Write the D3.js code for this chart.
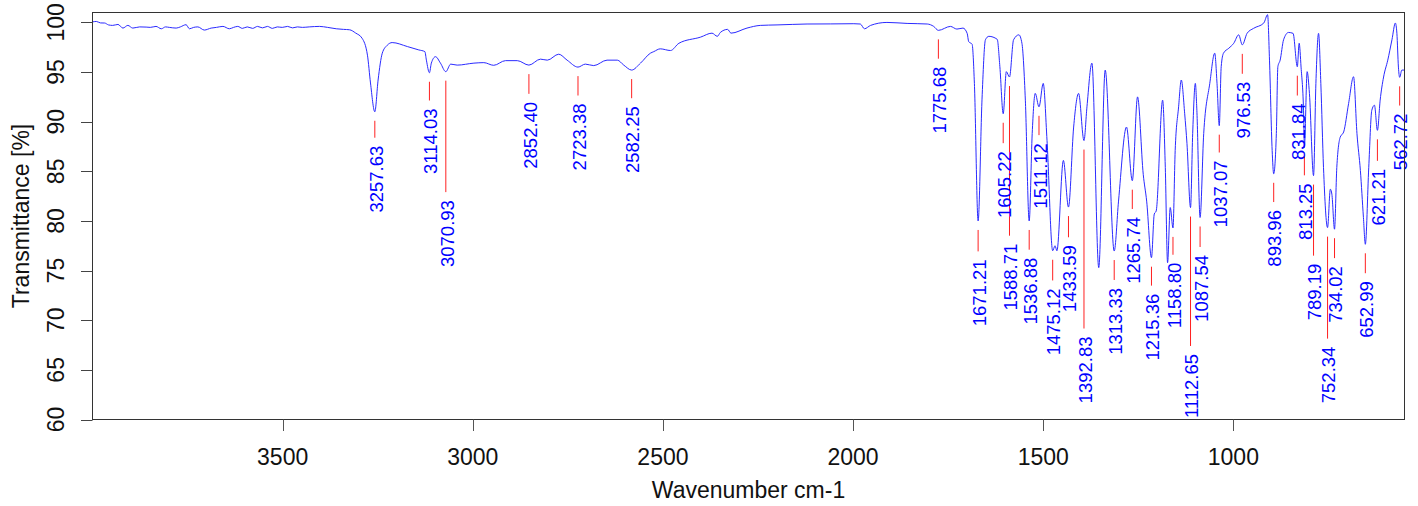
<!DOCTYPE html>
<html>
<head>
<meta charset="utf-8">
<script src="https://cdn.jsdelivr.net/npm/d3@7"></script>
<style>
  html, body { margin: 0; padding: 0; background: #ffffff; }
  svg { display: block; }
  text { font-family: "Liberation Sans", Arial, sans-serif; }
</style>
</head>
<body>
<svg id="chart" width="1418" height="506"></svg>
<script>
// ---- data ----
const wavenumbers = [
  4000, 3990, 3979, 3968, 3958, 3947, 3933, 3920, 3907, 3894, 3876, 3859, 3848, 3833, 3819, 3808, 3798,
  3780, 3769, 3754, 3745, 3734, 3723, 3706, 3688, 3674, 3657, 3640, 3629, 3618, 3606, 3593, 3579, 3566,
  3553, 3540, 3527, 3514, 3501, 3487, 3474, 3461, 3448, 3430, 3403, 3382, 3359, 3340, 3324, 3308, 3291,
  3277, 3269, 3257.63, 3249, 3238, 3225, 3212, 3172, 3142, 3126, 3122, 3114.03, 3109, 3098, 3085, 3070.93,
  3058, 3041, 2997, 2971, 2945, 2914, 2883, 2852.40, 2822, 2804, 2774, 2752, 2723.38, 2704, 2682, 2647,
  2620, 2603, 2582.25, 2559, 2533, 2524, 2507, 2480, 2458, 2401, 2371, 2357, 2349, 2330, 2321, 2279, 2244,
  2200, 2160, 2121, 2060, 1998, 1981, 1970, 1954, 1911, 1858, 1805, 1788, 1775.68, 1744, 1727, 1711, 1700,
  1696, 1687, 1681, 1671.21, 1661, 1652, 1643, 1621, 1614, 1605.22, 1597, 1588.71, 1578, 1564, 1556, 1547,
  1536.88, 1529, 1521, 1511.12, 1500, 1490, 1475.12, 1469, 1464, 1447, 1433.59, 1420, 1407, 1392.83, 1385,
  1372, 1354, 1337, 1313.33, 1302, 1281, 1265.74, 1252, 1237, 1228, 1215.36, 1208, 1203, 1186, 1179, 1173,
  1166, 1158.80, 1153, 1144, 1137, 1128, 1122, 1112.65, 1107, 1100, 1096, 1087.54, 1078, 1062, 1049, 1043,
  1037.07, 1032, 1026, 1012, 999, 986, 976.53, 964, 947, 920, 910, 905, 898, 893.96, 887, 883, 877, 868,
  855, 843, 831.84, 827, 822, 815, 813.25, 806, 800, 789.19, 783, 776, 770, 763, 752.34, 745, 741, 734.02,
  728, 719, 710, 697, 684, 675, 666, 658, 652.99, 644, 636, 629, 621.21, 614, 605, 594, 583, 574, 570, 566,
  562.72, 557, 550
];
const transmittance = [
  100.05, 100.1, 99.95, 99.94, 99.75, 99.7, 99.8, 99.43, 99.7, 99.43, 99.55, 99.53, 99.5, 99.6, 99.36, 99.55, 99.5,
  99.43, 99.55, 99.77, 99.36, 99.5, 99.55, 99.23, 99.43, 99.5, 99.6, 99.36, 99.5, 99.6, 99.4, 99.55, 99.4, 99.6,
  99.45, 99.6, 99.4, 99.55, 99.5, 99.6, 99.45, 99.55, 99.5, 99.55, 99.6, 99.5, 99.36, 99.3, 99.26, 98.93, 98.4,
  96.7, 93.9, 91.0, 94.2, 96.9, 97.7, 97.97, 97.57, 97.23, 97.06, 96.2, 94.93, 95.9, 96.55, 95.9, 95.04,
  95.8, 95.7, 95.9, 95.95, 95.68, 96.15, 96.15, 95.7, 96.3, 96.2, 96.8, 96.2, 95.5, 95.8, 95.65, 96.2,
  96.2, 95.7, 95.2, 95.9, 96.9, 97.06, 97.34, 97.17, 97.9, 98.52, 98.92, 98.6, 98.99, 99.3, 98.92, 99.43, 99.7,
  99.75, 99.8, 99.84, 99.85, 99.87, 99.84, 99.36, 99.7, 100.0, 99.9, 99.84, 99.6, 99.2, 99.6, 99.33, 99.43, 98.9,
  98.07, 97.8, 93.86, 80.0, 92.2, 98.25, 98.6, 98.3, 95.54, 90.8, 95.04, 94.5, 98.25, 98.75, 97.9, 92.17,
  80.0, 88.8, 92.85, 91.5, 93.86, 88.1, 77.0, 77.5, 77.0, 86.1, 81.4, 89.46, 92.85, 88.1, 91.5,
  95.9, 75.3, 95.2, 76.97, 82.0, 89.46, 84.06, 92.5, 84.7, 82.0, 76.3, 80.7, 81.0, 92.17, 85.4, 75.8,
  81.35, 79.3, 87.1, 91.5, 94.2, 90.8, 87.8, 81.35, 88.8, 93.86, 91.15, 80.35, 88.8, 93.86, 96.9, 93.86,
  89.6, 95.54, 96.9, 97.4, 97.9, 98.75, 97.74, 98.9, 99.4, 99.94, 100.78, 96.2, 87.1, 84.75, 88.8, 95.54, 96.2, 98.25,
  98.99, 98.9, 95.54, 97.9, 95.5, 90.5, 87.4, 95.04, 92.85, 84.57, 93.86, 98.9, 93.86, 85.4, 79.33, 83.2, 82.7, 79.17,
  85.4, 88.45, 88.96, 91.83, 94.53, 88.8, 85.08, 80.35, 77.65, 85.4, 91.15, 91.66, 89.13, 92.17, 94.5, 96.2, 98.25, 99.94, 98.9, 95.5,
  94.47, 95.2, 95.2
];

// labelled peaks and the transmittance level where each label's text begins
const peakWavenumbers = [
  3257.63, 3114.03, 3070.93, 2852.40, 2723.38, 2582.25, 1775.68, 1671.21, 1605.22, 1588.71, 1536.88,
  1511.12, 1475.12, 1433.59, 1392.83, 1313.33, 1265.74, 1215.36, 1158.80, 1112.65, 1087.54, 1037.07,
  976.53, 893.96, 831.84, 813.25, 789.19, 752.34, 734.02, 652.99, 621.21, 562.72
];
const labelLevels = [
  87.58, 91.33, 82.1, 92.0, 91.83, 91.56, 95.54, 76.13, 87.03, 77.71, 76.3,
  87.84, 73.2, 77.55, 68.36, 73.25, 80.4, 72.68, 75.79, 66.6, 76.57, 86.09,
  94.02, 81.1, 91.83, 83.79, 75.7, 67.34, 75.45, 73.93, 85.25, 90.82
];

const xTicks = [3500, 3000, 2500, 2000, 1500, 1000];
const yTicks = [60, 65, 70, 75, 80, 85, 90, 95, 100];
const xDomain = [4000, 550];
const yDomain = [60, 101];
const xTitle = "Wavenumber cm-1";
const yTitle = "Transmittance [%]";

// ---- layout ----
const plot = { left: 92.5, right: 1404.5, top: 12.5, bottom: 419.5 };
const svg = d3.select("#chart");

const x = d3.scaleLinear().domain(xDomain).range([plot.left, plot.right]);
const y = d3.scaleLinear().domain(yDomain).range([plot.bottom, plot.top]);

const spectrum = wavenumbers.map((w, i) => ({ w, t: transmittance[i] }));

// clip
svg.append("defs").append("clipPath").attr("id", "clip")
  .append("rect")
  .attr("x", plot.left).attr("y", plot.top)
  .attr("width", plot.right - plot.left).attr("height", plot.bottom - plot.top);

// spectrum line
const line = d3.line()
  .x(d => x(d.w))
  .y(d => y(d.t))
  .curve(d3.curveMonotoneX);

svg.append("path")
  .datum(spectrum)
  .attr("clip-path", "url(#clip)")
  .attr("fill", "none")
  .attr("stroke", "#2a2aff")
  .attr("stroke-width", 1)
  .attr("d", line);

// peak markers
const tAt = w => {
  const i = wavenumbers.indexOf(w);
  return i >= 0 ? transmittance[i] : null;
};
const peaks = peakWavenumbers.map((w, i) => ({ w, t: tAt(w), level: labelLevels[i] }));

svg.append("g").selectAll("line")
  .data(peaks)
  .join("line")
  .attr("x1", d => x(d.w)).attr("x2", d => x(d.w))
  .attr("y1", d => y(d.t) + 9)
  .attr("y2", d => y(d.level) - 8)
  .attr("stroke", "#ff2020")
  .attr("stroke-width", 1);

const fmt = d3.format(".2f");
svg.append("g").selectAll("text")
  .data(peaks)
  .join("text")
  .attr("transform", d => `translate(${x(d.w)},${y(d.level)}) rotate(-90)`)
  .attr("text-anchor", "end")
  .attr("dy", "0.42em")
  .attr("fill", "#0000ff")
  .attr("font-size", "18.5px")
  .text(d => fmt(d.w));

// box
svg.append("rect")
  .attr("x", plot.left).attr("y", plot.top)
  .attr("width", plot.right - plot.left).attr("height", plot.bottom - plot.top)
  .attr("fill", "none")
  .attr("stroke", "#333333")
  .attr("stroke-width", 1);

// x axis
const xAxis = svg.append("g");
xAxis.selectAll("line")
  .data(xTicks)
  .join("line")
  .attr("x1", d => Math.round(x(d)) + 0.5).attr("x2", d => Math.round(x(d)) + 0.5)
  .attr("y1", plot.bottom).attr("y2", plot.bottom + 11.5)
  .attr("stroke", "#555555");
xAxis.selectAll("text")
  .data(xTicks)
  .join("text")
  .attr("x", d => x(d))
  .attr("y", 464.5)
  .attr("text-anchor", "middle")
  .attr("font-size", "23px")
  .attr("fill", "#111")
  .text(d => d);

// y axis
const yAxis = svg.append("g");
yAxis.selectAll("line")
  .data(yTicks)
  .join("line")
  .attr("x1", plot.left - 11.5).attr("x2", plot.left)
  .attr("y1", d => Math.round(y(d)) + 0.5).attr("y2", d => Math.round(y(d)) + 0.5)
  .attr("stroke", "#444444");
yAxis.selectAll("text")
  .data(yTicks)
  .join("text")
  .attr("transform", d => `translate(64,${y(d)}) rotate(-90)`)
  .attr("text-anchor", "middle")
  .attr("font-size", "23px")
  .attr("fill", "#111")
  .text(d => d);

// titles
svg.append("text")
  .attr("x", (plot.left + plot.right) / 2)
  .attr("y", 497.7)
  .attr("text-anchor", "middle")
  .attr("font-size", "23px")
  .attr("fill", "#111")
  .text(xTitle);

svg.append("text")
  .attr("transform", `translate(28.5,${(plot.top + plot.bottom) / 2}) rotate(-90)`)
  .attr("text-anchor", "middle")
  .attr("font-size", "23px")
  .attr("fill", "#111")
  .text(yTitle);
</script>
</body>
</html>
